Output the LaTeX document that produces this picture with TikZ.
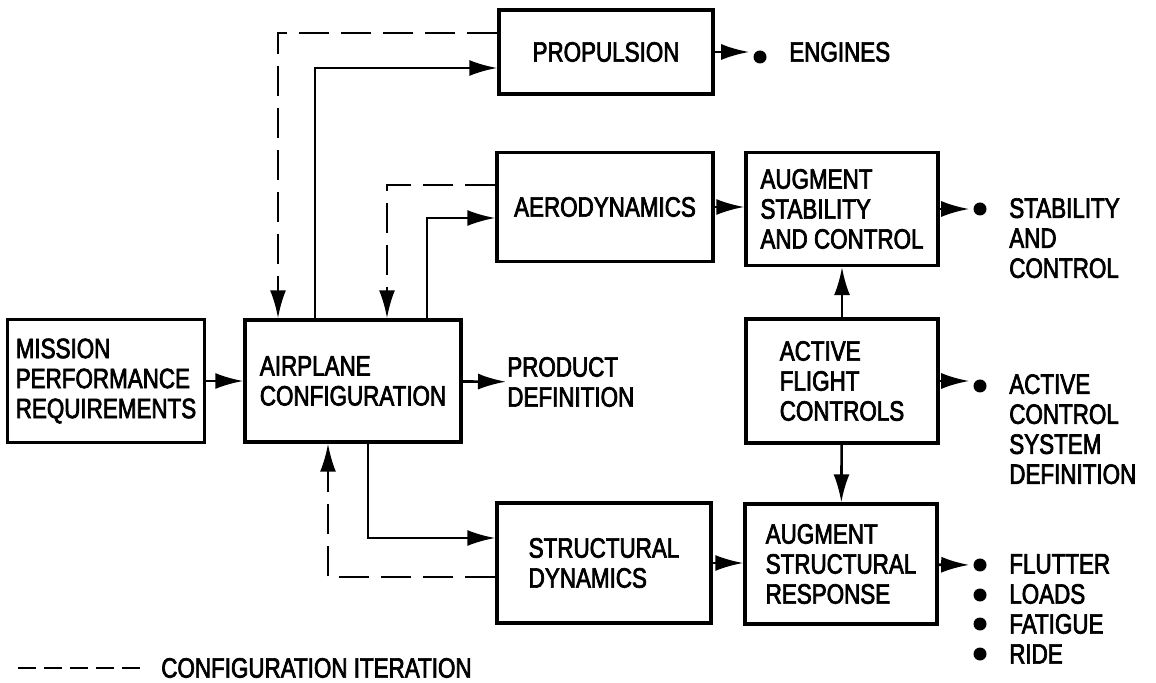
\documentclass[tikz,border=0pt]{standalone}
\usepackage{fontspec}
\setmainfont{Liberation Sans}[FakeStretch=0.8, FakeBold=2.5]
\usetikzlibrary{arrows.meta}

\tikzset{
  blk/.style={draw, line width=1.7pt, align=left, inner sep=0pt},
  lbl/.style={align=left, inner sep=0pt},
  bul/.style={circle, fill, inner sep=0pt, minimum size=6.5pt},
  iter/.style={dash pattern=on 15pt off 6pt},
}

\begin{document}
\begin{tikzpicture}[x=0.5pt, y=-0.5pt, line width=1.3pt,
    >={Latex[length=14pt,width=8pt]}, font=\fontsize{14}{15}\selectfont]
    \useasboundingbox (0,0) rectangle (1156,683);

    % blocks
    \node[blk, minimum width=98.5pt, minimum height=61.5pt] (mission) at (106,381) {MISSION\\PERFORMANCE\\REQUIREMENTS};
    \node[blk, minimum width=108pt, minimum height=61pt] (airplane) at (353,381) {AIRPLANE\\CONFIGURATION};
    \node[blk, minimum width=107pt, minimum height=42pt] (propulsion) at (606,52) {PROPULSION};
    \node[blk, minimum width=108pt, minimum height=54.5pt] (aero) at (605,207) {AERODYNAMICS};
    \node[blk, minimum width=96pt, minimum height=56.5pt] (augsc) at (842,209) {AUGMENT\\STABILITY\\AND CONTROL};
    \node[blk, minimum width=96pt, minimum height=62pt] (active) at (842,381) {ACTIVE\\FLIGHT\\CONTROLS};
    \node[blk, minimum width=107pt, minimum height=60pt] (struct) at (604,563) {STRUCTURAL\\DYNAMICS};
    \node[blk, minimum width=96pt, minimum height=60pt] (augsr) at (841,564) {AUGMENT\\STRUCTURAL\\RESPONSE};

    % outputs
    \node[lbl, anchor=west] (product) at (506,382) {PRODUCT\\DEFINITION};
    \node[bul] (engdot) at (760,57) {};
    \node[lbl, anchor=west] (engines) at (788,52) {ENGINES};
    \node[bul] (scdot) at (980,209) {};
    \node[lbl, anchor=north west] (sctext) at (1008,197) {STABILITY\\AND\\CONTROL};
    \node[bul] (acdot) at (980,386) {};
    \node[lbl, anchor=north west] (actext) at (1008,373) {ACTIVE\\CONTROL\\SYSTEM\\DEFINITION};
    \node[bul] (flutdot) at (980,565) {};
    \node[lbl, anchor=west] (flutter) at (1008,564) {FLUTTER};
    \node[bul] (loaddot) at (980,595) {};
    \node[lbl, anchor=west] (loads) at (1008,594) {LOADS};
    \node[bul] (fatdot) at (980,624) {};
    \node[lbl, anchor=west] (fatigue) at (1008,624) {FATIGUE};
    \node[bul] (ridedot) at (980,654) {};
    \node[lbl, anchor=west] (ride) at (1008,654) {RIDE};

    % legend
    \coordinate (legA) at (18,668);
    \node[lbl, anchor=west] (legend) at (160,668) {CONFIGURATION ITERATION};

    % main flow
    \draw[->] (mission) -- (airplane);
    \draw[->] (airplane) -- (product);
    \draw[->] ([shift={(-38,0)}]airplane.north) |- ([shift={(0,16)}]propulsion.west);
    \draw[->] ([shift={(74,0)}]airplane.north) |- ([shift={(0,11)}]aero.west);
    \draw[->] ([shift={(15,0)}]airplane.south) |- ([shift={(0,-25)}]struct.west);
    \draw[->] (aero.east) -- (aero.east -| augsc.west);
    \draw[->] (struct.east) -- (struct.east -| augsr.west);
    \draw[->] (active) -- (augsc);
    \draw[->] (active) -- (augsr);

    % iteration loops
    \draw[->, iter] ([shift={(0,-19)}]propulsion.west) -| ([shift={(-75,0)}]airplane.north);
    \draw[->, iter] ([shift={(0,-22)}]aero.west) -| ([shift={(34,0)}]airplane.north);
    \draw[->, iter] ([shift={(0,14)}]struct.west) -| ([shift={(-25,0)}]airplane.south);

    % to the results
    \draw[->, shorten >=1.5pt] (propulsion.east) -- (propulsion.east -| engdot.west);
    \draw[->, shorten >=1.5pt] (augsc) -- (scdot);
    \draw[->, shorten >=1.5pt] (active.east) -- (active.east -| acdot.west);
    \draw[->, shorten >=1.5pt] (augsr) -- (flutdot);

    \draw[iter, dash pattern=on 9pt off 4pt] (legA) -- ([xshift=-8pt]legend.west);
\end{tikzpicture}
\end{document}
